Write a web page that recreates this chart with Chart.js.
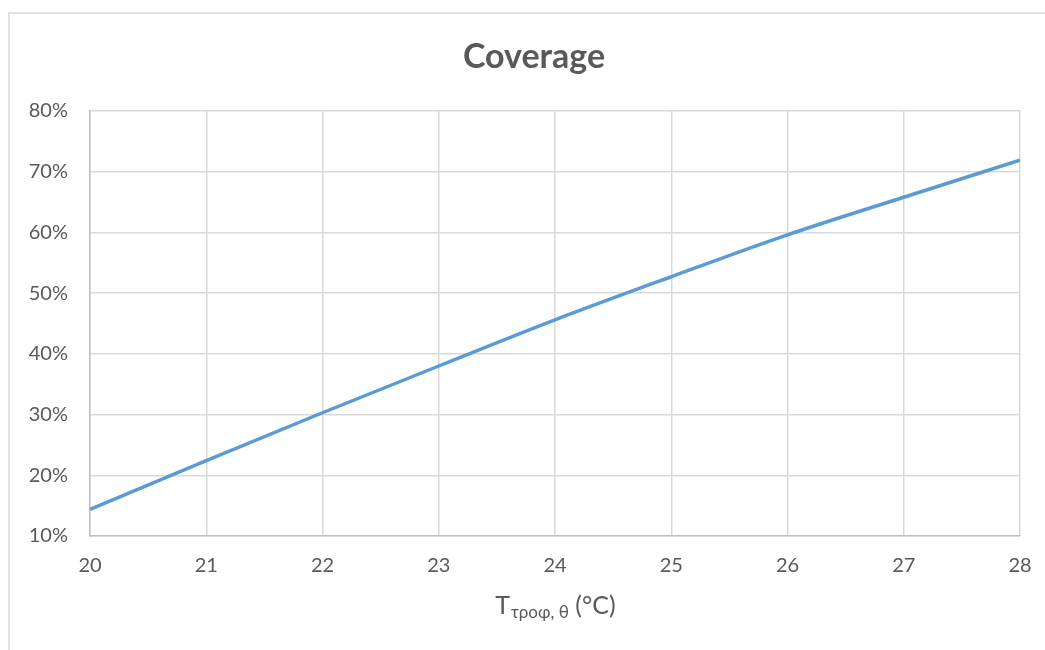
<!DOCTYPE html>
<html>
<head>
<meta charset="utf-8">
<script src="https://cdn.jsdelivr.net/npm/chart.js@4"></script>
<style>
  html, body { margin: 0; padding: 0; background: #ffffff; }
  #wrap { width: 1045px; height: 650px; }
</style>
</head>
<body>
<div id="wrap"><canvas id="chart" width="1045" height="650"></canvas></div>
<script>
// Supply temperature (°C) and the resulting coverage (%)
const temperatures = [20, 21, 22, 23, 24, 25, 26, 27, 28];
const coverage = [14.4, 22.4, 30.3, 38.0, 45.6, 52.7, 59.6, 65.8, 71.9];

const titleText = 'Coverage';
const axisMain = 'T';
const axisSub = 'τροφ, θ';
const axisUnit = ' (°C)';

const FONT = "Lato, 'Open Sans', sans-serif";
const TEXT_COLOR = '#595959';

// Outer frame, title and the subscripted x-axis title
const decorations = {
  id: 'decorations',
  beforeDraw(chart) {
    const ctx = chart.ctx;
    ctx.save();
    ctx.fillStyle = '#ffffff';
    ctx.fillRect(0, 0, chart.width, chart.height);
    ctx.strokeStyle = '#d9d9d9';
    ctx.lineWidth = 1.5;
    ctx.beginPath();
    ctx.moveTo(9, chart.height + 5);
    ctx.lineTo(9, 13);
    ctx.lineTo(chart.width + 5, 13);
    ctx.stroke();
    ctx.restore();
  },
  afterDraw(chart) {
    const ctx = chart.ctx;
    const area = chart.chartArea;
    ctx.save();
    ctx.fillStyle = TEXT_COLOR;
    ctx.textBaseline = 'alphabetic';

    ctx.font = 'bold 34px ' + FONT;
    ctx.textAlign = 'center';
    ctx.fillText(titleText, 534, 68);

    ctx.textAlign = 'left';
    const mainFont = '25px ' + FONT;
    const subFont = '17px ' + FONT;
    ctx.font = mainFont;
    const wMain = ctx.measureText(axisMain).width;
    const wUnit = ctx.measureText(axisUnit).width;
    ctx.font = subFont;
    const wSub = ctx.measureText(axisSub).width;
    const total = wMain + wSub + wUnit;
    let x = (area.left + area.right) / 2 - total / 2;
    const base = 614;
    ctx.font = mainFont;
    ctx.fillText(axisMain, x, base);
    x += wMain + 1;
    ctx.font = subFont;
    ctx.fillText(axisSub, x, base + 4);
    x += wSub;
    ctx.font = mainFont;
    ctx.fillText(axisUnit, x, base);
    ctx.restore();
  }
};

new Chart(document.getElementById('chart'), {
  type: 'line',
  data: {
    datasets: [{
      label: titleText,
      data: temperatures.map((t, i) => ({ x: t, y: coverage[i] })),
      borderColor: '#5b9bd5',
      borderWidth: 3.5,
      pointRadius: 0,
      fill: false,
      cubicInterpolationMode: 'monotone'
    }]
  },
  options: {
    responsive: false,
    animation: false,
    layout: { padding: { top: 111, left: 0, right: 25, bottom: 0 } },
    plugins: {
      legend: { display: false },
      title: { display: false },
      tooltip: { enabled: false }
    },
    scales: {
      x: {
        type: 'linear',
        min: 20,
        max: 28,
        afterFit(scale) {
          scale.height = 114;
          scale.paddingLeft = 0;
          scale.paddingRight = 0;
        },
        ticks: {
          stepSize: 1,
          padding: 18,
          color: TEXT_COLOR,
          font: { family: FONT, size: 20 }
        },
        grid: { color: '#d9d9d9', lineWidth: 1.5, drawTicks: false },
        border: { color: '#bfbfbf', width: 1.5 }
      },
      y: {
        min: 10,
        max: 80,
        afterFit(scale) { scale.width = 90; },
        ticks: {
          stepSize: 10,
          padding: 22,
          color: TEXT_COLOR,
          font: { family: FONT, size: 20 },
          callback: v => v + '%'
        },
        grid: { color: '#d9d9d9', lineWidth: 1.5, drawTicks: false },
        border: { color: '#bfbfbf', width: 1.5 }
      }
    }
  },
  plugins: [decorations]
});
</script>
</body>
</html>
